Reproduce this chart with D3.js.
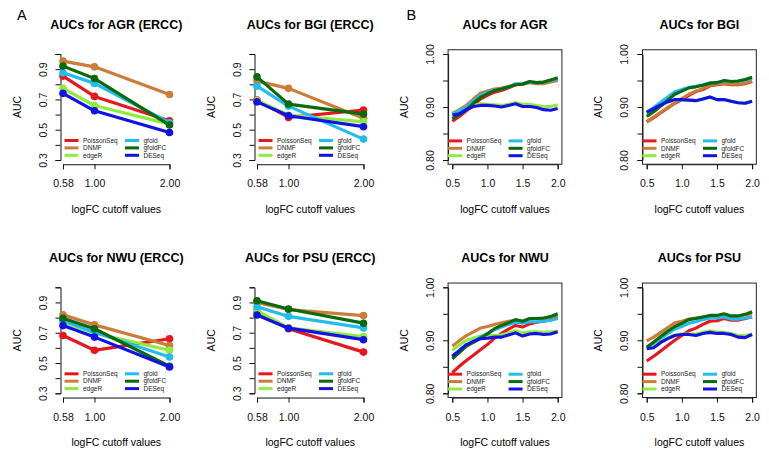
<!DOCTYPE html>
<html>
<head>
<meta charset="utf-8">
<script src="https://cdn.jsdelivr.net/npm/d3@7"></script>
<style>
  html, body { margin: 0; padding: 0; background: #ffffff; }
  svg { display: block; font-family: "Liberation Sans", Arial, Helvetica, sans-serif; }
</style>
</head>
<body>
<svg id="chart" width="769" height="465"></svg>
<script>
// ---------------- data ----------------
const methods = ["PoissonSeq", "DNMF", "edgeR", "gfold", "gfoldFC", "DESeq"];
const methodColors = ["#e8171d", "#cd7b38", "#8fec3a", "#22bdef", "#0a690a", "#1212e6"];

const cutoffsERCC = [0.58, 1.00, 2.00];
const cutoffsAll = [0.5, 0.6, 0.7, 0.8, 0.9, 1.0, 1.1, 1.2, 1.3, 1.4, 1.5, 1.6, 1.7, 1.8, 1.9, 2.0];

const ticksERCCx = [0.58, 1.00, 2.00];
const ticksERCCy = [0.3, 0.4, 0.5, 0.6, 0.7, 0.8, 0.9, 1.0];
const labelsERCCy = [0.3, 0.5, 0.7, 0.9];
const ticksAllx = [0.5, 1.0, 1.5, 2.0];
const ticksAlly = [0.80, 0.85, 0.90, 0.95, 1.00];
const labelsAlly = [0.80, 0.90, 1.00];

// ERCC panels (rows = methods in order above, columns = cutoffsERCC)
const aucAGR_ERCC = [
  [0.854, 0.720, 0.559],
  [0.953, 0.915, 0.733],
  [0.773, 0.660, 0.537],
  [0.876, 0.806, 0.546],
  [0.920, 0.838, 0.531],
  [0.740, 0.625, 0.482]
];
const aucBGI_ERCC = [
  [0.696, 0.581, 0.630],
  [0.821, 0.773, 0.575],
  [0.692, 0.597, 0.552],
  [0.788, 0.656, 0.438],
  [0.849, 0.669, 0.603],
  [0.684, 0.592, 0.520]
];
const aucNWU_ERCC = [
  [0.682, 0.584, 0.660],
  [0.819, 0.752, 0.616],
  [0.769, 0.697, 0.584],
  [0.780, 0.703, 0.540],
  [0.795, 0.726, 0.479],
  [0.747, 0.671, 0.474]
];
const aucPSU_ERCC = [
  [0.843, 0.726, 0.572],
  [0.900, 0.853, 0.813],
  [0.846, 0.732, 0.675],
  [0.872, 0.808, 0.732],
  [0.911, 0.857, 0.763],
  [0.817, 0.730, 0.654]
];

// Full-range panels (columns = cutoffsAll)
const aucAGR = [
  [0.873, 0.882, 0.893, 0.903, 0.915, 0.922, 0.928, 0.931, 0.936, 0.942, 0.944, 0.947, 0.945, 0.946, 0.948, 0.951],
  [0.888, 0.895, 0.903, 0.915, 0.926, 0.930, 0.934, 0.936, 0.939, 0.942, 0.943, 0.946, 0.944, 0.944, 0.947, 0.950],
  [0.888, 0.893, 0.898, 0.903, 0.906, 0.905, 0.904, 0.903, 0.905, 0.908, 0.905, 0.905, 0.903, 0.901, 0.901, 0.904],
  [0.887, 0.893, 0.900, 0.911, 0.922, 0.928, 0.932, 0.934, 0.938, 0.944, 0.944, 0.947, 0.946, 0.947, 0.950, 0.953],
  [0.878, 0.886, 0.895, 0.907, 0.918, 0.925, 0.931, 0.934, 0.938, 0.942, 0.943, 0.948, 0.946, 0.947, 0.951, 0.955],
  [0.885, 0.887, 0.895, 0.901, 0.903, 0.903, 0.902, 0.900, 0.903, 0.906, 0.901, 0.901, 0.899, 0.895, 0.894, 0.897]
];
const aucBGI = [
  [0.872, 0.880, 0.889, 0.898, 0.907, 0.914, 0.922, 0.929, 0.933, 0.940, 0.942, 0.944, 0.942, 0.942, 0.944, 0.948],
  [0.873, 0.881, 0.890, 0.899, 0.908, 0.916, 0.924, 0.930, 0.935, 0.941, 0.943, 0.945, 0.943, 0.943, 0.945, 0.949],
  [0.889, 0.896, 0.903, 0.909, 0.913, 0.914, 0.913, 0.912, 0.915, 0.919, 0.914, 0.914, 0.911, 0.908, 0.907, 0.911],
  [0.891, 0.899, 0.909, 0.919, 0.929, 0.933, 0.937, 0.939, 0.942, 0.946, 0.946, 0.949, 0.948, 0.948, 0.951, 0.954],
  [0.882, 0.891, 0.902, 0.913, 0.924, 0.930, 0.936, 0.938, 0.941, 0.945, 0.946, 0.950, 0.948, 0.949, 0.952, 0.956],
  [0.890, 0.897, 0.904, 0.910, 0.914, 0.914, 0.913, 0.912, 0.915, 0.919, 0.914, 0.914, 0.911, 0.908, 0.907, 0.911]
];
const aucNWU = [
  [0.839, 0.851, 0.862, 0.872, 0.882, 0.892, 0.904, 0.913, 0.921, 0.928, 0.925, 0.931, 0.934, 0.936, 0.939, 0.942],
  [0.889, 0.899, 0.909, 0.916, 0.923, 0.926, 0.930, 0.933, 0.936, 0.938, 0.936, 0.940, 0.941, 0.941, 0.944, 0.947],
  [0.881, 0.891, 0.900, 0.904, 0.908, 0.909, 0.909, 0.910, 0.914, 0.918, 0.914, 0.916, 0.916, 0.915, 0.916, 0.917],
  [0.870, 0.880, 0.889, 0.898, 0.906, 0.913, 0.920, 0.925, 0.930, 0.934, 0.932, 0.935, 0.935, 0.936, 0.938, 0.941],
  [0.865, 0.877, 0.889, 0.896, 0.904, 0.912, 0.922, 0.928, 0.933, 0.939, 0.936, 0.941, 0.941, 0.942, 0.945, 0.950],
  [0.870, 0.881, 0.892, 0.898, 0.903, 0.904, 0.906, 0.906, 0.910, 0.914, 0.908, 0.912, 0.913, 0.911, 0.912, 0.916]
];
const aucPSU = [
  [0.861, 0.870, 0.880, 0.890, 0.900, 0.909, 0.918, 0.923, 0.930, 0.936, 0.937, 0.941, 0.938, 0.938, 0.941, 0.944],
  [0.899, 0.906, 0.915, 0.924, 0.933, 0.936, 0.940, 0.942, 0.944, 0.946, 0.945, 0.948, 0.944, 0.945, 0.948, 0.950],
  [0.888, 0.891, 0.899, 0.905, 0.910, 0.912, 0.912, 0.912, 0.915, 0.918, 0.915, 0.915, 0.913, 0.909, 0.909, 0.912],
  [0.886, 0.895, 0.904, 0.913, 0.921, 0.926, 0.932, 0.935, 0.939, 0.942, 0.942, 0.944, 0.940, 0.940, 0.942, 0.944],
  [0.887, 0.897, 0.907, 0.917, 0.926, 0.932, 0.939, 0.941, 0.944, 0.947, 0.947, 0.950, 0.946, 0.946, 0.949, 0.954],
  [0.884, 0.886, 0.896, 0.903, 0.909, 0.911, 0.911, 0.909, 0.913, 0.915, 0.913, 0.913, 0.911, 0.906, 0.905, 0.911]
];

// ---------------- drawing ----------------
const svg = d3.select("#chart");
const FONT_TITLE = 12.5, FONT_AXIS = 10.5, FONT_LEG = 6.5;

function legend(g, left, bottomRowY) {
  const colOff = [0, 60.5];
  methods.forEach((m, i) => {
    const c = Math.floor(i / 3), r = i % 3;
    const yy = bottomRowY - (2 - r) * 7.4;
    const x0 = left + colOff[c];
    g.append("line").attr("x1", x0).attr("x2", x0 + 14).attr("y1", yy).attr("y2", yy)
      .attr("stroke", methodColors[i]).attr("stroke-width", 3);
    g.append("text").attr("x", x0 + 18.5).attr("y", yy).attr("dy", "0.35em")
      .attr("font-size", FONT_LEG).attr("fill", "#222").text(m);
  });
}

function rotateYLabels(axisG, d) {
  axisG.selectAll(".tick text")
    .attr("x", null).attr("dy", null)
    .attr("transform", "rotate(-90)")
    .attr("y", -d)
    .attr("x", 0)
    .attr("text-anchor", "middle");
}

function panelERCC(data, title, ox, oy) {
  const g = svg.append("g");
  const x = d3.scaleLinear().domain([0.58, 2.0]).range([63 + ox, 169.5 + ox]);
  const y = d3.scaleLinear().domain([0.3, 1.0]).range([160 + oy, 54 + oy]);
  const cx = (x(0.523) + x(2.057)) / 2;
  const axisX = x(0.58) - 2.5;

  const ya = g.append("g").attr("transform", `translate(${axisX},0)`)
    .call(d3.axisLeft(y).tickValues(ticksERCCy).tickSizeOuter(0).tickSize(5)
      .tickFormat(d => labelsERCCy.some(v => Math.abs(v - d) < 1e-9) ? d3.format(".1f")(d) : ""));
  rotateYLabels(ya, 13.5);

  const xa = g.append("g").attr("transform", `translate(0,${y(0.272)})`)
    .call(d3.axisBottom(x).tickValues(ticksERCCx).tickSizeOuter(0).tickSize(5)
      .tickFormat(d3.format(".2f")));
  xa.selectAll(".tick text").attr("y", 23).attr("dy", null);

  [ya, xa].forEach(a => {
    a.selectAll("text").attr("font-size", FONT_AXIS).attr("fill", "#111")
      .attr("font-family", "Liberation Sans, Arial, sans-serif");
    a.selectAll("path, line").attr("stroke", "#111");
  });

  const line = d3.line().x((d, i) => x(cutoffsERCC[i])).y(d => y(d));
  data.forEach((vals, k) => {
    g.append("path").attr("d", line(vals)).attr("fill", "none")
      .attr("stroke", methodColors[k]).attr("stroke-width", 3.2)
      .attr("stroke-linejoin", "round").attr("stroke-linecap", "round");
    g.selectAll(null).data(vals).enter().append("circle")
      .attr("cx", (d, i) => x(cutoffsERCC[i])).attr("cy", d => y(d))
      .attr("r", 3.8).attr("fill", methodColors[k]);
  });

  legend(g, x(0.58) + 1.5, y(0.3) - 4.7);

  g.append("text").attr("x", cx).attr("y", 28.5 + oy).attr("text-anchor", "middle")
    .attr("font-weight", "bold").attr("font-size", FONT_TITLE).text(title);
  g.append("text").attr("x", cx).attr("y", 213 + oy).attr("text-anchor", "middle")
    .attr("font-size", FONT_AXIS).text("logFC cutoff values");
  g.append("text").attr("transform", `translate(${20.5 + ox},${(y(0.272) + y(1.028)) / 2}) rotate(-90)`)
    .attr("text-anchor", "middle").attr("font-size", FONT_AXIS).text("AUC");
}

function panelAll(data, title, ox, oy) {
  const g = svg.append("g");
  const x = d3.scaleLinear().domain([0.5, 2.0]).range([452.3 + ox, 557.7 + ox]);
  const y = d3.scaleLinear().domain([0.8, 1.0]).range([160 + oy, 54 + oy]);
  const L = x(0.44), R = x(2.06), T = y(1.008), B = y(0.792);
  const cx = (L + R) / 2;

  const ya = g.append("g").attr("transform", `translate(${L},0)`)
    .call(d3.axisLeft(y).tickValues(ticksAlly).tickSizeOuter(0).tickSize(5)
      .tickFormat(d => labelsAlly.some(v => Math.abs(v - d) < 1e-9) ? d3.format(".2f")(d) : ""));
  rotateYLabels(ya, 14.5);

  const xa = g.append("g").attr("transform", `translate(0,${B})`)
    .call(d3.axisBottom(x).tickValues(ticksAllx).tickSizeOuter(0).tickSize(5)
      .tickFormat(d3.format(".1f")));
  xa.selectAll(".tick text").attr("y", 23).attr("dy", null);

  [ya, xa].forEach(a => {
    a.selectAll("text").attr("font-size", FONT_AXIS).attr("fill", "#111")
      .attr("font-family", "Liberation Sans, Arial, sans-serif");
    a.selectAll("path, line").attr("stroke", "#111");
  });

  const line = d3.line().x((d, i) => x(cutoffsAll[i])).y(d => y(d));
  data.forEach((vals, k) => {
    g.append("path").attr("d", line(vals)).attr("fill", "none")
      .attr("stroke", methodColors[k]).attr("stroke-width", 3.1)
      .attr("stroke-linejoin", "round").attr("stroke-linecap", "butt");
  });

  g.append("rect").attr("x", L).attr("y", T).attr("width", R - L).attr("height", B - T)
    .attr("fill", "none").attr("stroke", "#222").attr("stroke-width", 1);

  legend(g, L, y(0.8) - 4.3);

  g.append("text").attr("x", cx).attr("y", 28.5 + oy).attr("text-anchor", "middle")
    .attr("font-weight", "bold").attr("font-size", FONT_TITLE).text(title);
  g.append("text").attr("x", cx).attr("y", 213 + oy).attr("text-anchor", "middle")
    .attr("font-size", FONT_AXIS).text("logFC cutoff values");
  g.append("text").attr("transform", `translate(${408 + ox},${(T + B) / 2}) rotate(-90)`)
    .attr("text-anchor", "middle").attr("font-size", FONT_AXIS).text("AUC");
}

panelERCC(aucAGR_ERCC, "AUCs for AGR (ERCC)", 0, 0);
panelERCC(aucBGI_ERCC, "AUCs for BGI (ERCC)", 194, 0);
panelERCC(aucNWU_ERCC, "AUCs for NWU (ERCC)", 0, 233.3);
panelERCC(aucPSU_ERCC, "AUCs for PSU (ERCC)", 194, 233.3);

panelAll(aucAGR, "AUCs for AGR", 0, 0);
panelAll(aucBGI, "AUCs for BGI", 194.4, 0);
panelAll(aucNWU, "AUCs for NWU", 0, 233.3);
panelAll(aucPSU, "AUCs for PSU", 194.4, 233.3);

svg.append("text").attr("x", 17).attr("y", 19.5).attr("font-size", 14.5).text("A");
svg.append("text").attr("x", 406.5).attr("y", 19.5).attr("font-size", 14.5).text("B");
</script>
</body>
</html>
